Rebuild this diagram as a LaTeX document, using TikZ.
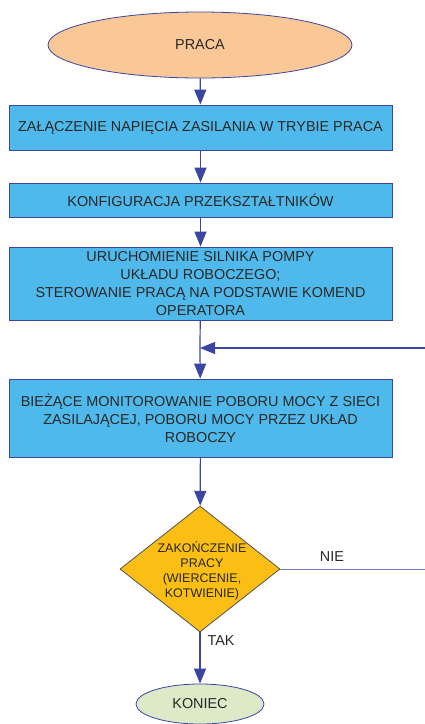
\documentclass[tikz,border=0pt]{standalone}
\usepackage{fontspec}
\setmainfont{Liberation Sans}
\usetikzlibrary{shapes.geometric,arrows.meta}
\definecolor{boxblue}{RGB}{80,185,235}
\definecolor{edgeblue}{RGB}{60,70,160}
\definecolor{peach}{RGB}{250,200,150}
\definecolor{gold}{RGB}{250,190,20}
\definecolor{lgreen}{RGB}{220,234,200}
\definecolor{txt}{RGB}{40,40,40}
\tikzset{
  x=1pt,y=-1pt,
  every node/.style={font=\fontsize{14.4}{18}\selectfont, text=txt, align=center},
  procbox/.style={rectangle, draw=edgeblue, line width=0.8pt, fill=boxblue, minimum width=383pt, inner sep=0pt},
  term/.style={ellipse, draw=edgeblue, line width=0.8pt, inner sep=0pt},
  decis/.style={diamond, draw=txt!80, line width=0.8pt, fill=gold, inner sep=0pt, minimum width=160pt, minimum height=126pt},
  decistext/.style={font=\fontsize{12.5}{15}\selectfont},
  flow/.style={draw=edgeblue, line width=1.2pt, -{Triangle[length=15pt,width=12pt]}},
  plain/.style={draw=edgeblue!70, line width=1pt},
}
\begin{document}
\begin{tikzpicture}
\useasboundingbox (0,0) rectangle (425,724);
\node[term, fill=peach, minimum width=304pt, minimum height=66pt] (start) at (200,45) {PRACA};
\node[procbox, minimum height=45pt] (b1) at (200.5,127.5) {ZAŁĄCZENIE NAPIĘCIA ZASILANIA W TRYBIE PRACA};
\node[procbox, minimum height=34pt] (b2) at (200.5,200) {KONFIGURACJA PRZEKSZTAŁTNIKÓW};
\node[procbox, minimum height=73pt] (b3) at (200.5,283.5) {URUCHOMIENIE SILNIKA POMPY\\UKŁADU ROBOCZEGO;\\STEROWANIE PRACĄ NA PODSTAWIE KOMEND\\OPERATORA};
\node[procbox, minimum height=78pt] (b4) at (200.5,418) {BIEŻĄCE MONITOROWANIE POBORU MOCY Z SIECI\\ZASILAJĄCEJ, POBORU MOCY PRZEZ UKŁAD\\ROBOCZY};
\node[decis] (d) at (200,569) {};
\node[decistext] (dtext) at (202,571) {ZAKOŃCZENIE\\PRACY\\(WIERCENIE,\\KOTWIENIE)};
\node[term, fill=lgreen, minimum width=128pt, minimum height=40pt] (end) at (200,704) {KONIEC};
\coordinate (join) at (200,348);
\coordinate (rt) at (430,569);
\coordinate (rb) at (430,348);
\draw[flow] (start) -- (b1);
\draw[flow] (b1) -- (b2);
\draw[flow] (b2) -- (b3);
\draw[draw=edgeblue, line width=1.2pt] (b3) -- (join);
\draw[flow] (join) -- (b4);
\draw[flow] (b4) -- (d);
\draw[flow] (d) -- (end);
\node (tak) at (221,641) {TAK};
\draw[plain] (d.east) -- (rt) -- (rb);
\node (nie) at (332,557) {NIE};
\draw[flow] (rb) -- (join);
\end{tikzpicture}
\end{document}
